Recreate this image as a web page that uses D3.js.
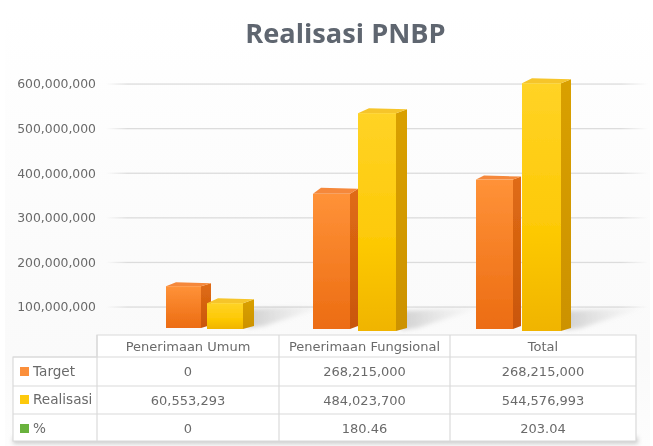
<!DOCTYPE html>
<html><head><meta charset="utf-8">
<script src="https://cdn.jsdelivr.net/npm/d3@7"></script>
<style>html,body{margin:0;padding:0;background:#fff}svg{display:block}</style>
</head><body><div id="c"></div>
<script>
const title = "Realisasi PNBP";
const categories = ["Penerimaan Umum","Penerimaan Fungsional","Total"];
const seriesNames = ["Target","Realisasi","%"];
const axisTicks = [100000000,200000000,300000000,400000000,500000000,600000000];
// bar heights (the drawn orange bars differ from the table)
const targetBars = [96000000,303000000,335000000];
const realisasiBars = [58000000,484000000,551000000];
// table text
const targetRow = ["0","268,215,000","268,215,000"];
const realisasiRow = ["60,553,293","484,023,700","544,576,993"];
const persenRow = ["0","180.46","203.04"];

const W=653,H=446;
const svg=d3.select("#c").append("svg").attr("width",W).attr("height",H);
const defs=svg.append("defs");
const FONT="'DejaVu Sans',sans-serif";
function grad(id,stops,horizontal){
  const g=defs.append("linearGradient").attr("id",id).attr("x1",0).attr("y1",0).attr("x2",horizontal?1:0).attr("y2",horizontal?0:1);
  stops.forEach(s=>g.append("stop").attr("offset",s[0]).attr("stop-color",s[1]).attr("stop-opacity",s[2]===undefined?1:s[2]));
}
grad("bg",[[0,"#ffffff"],[0.55,"#fbfbfb"],[0.8,"#fafafa"],[1,"#fdfdfd"]]);
grad("oF",[[0,"#ff9238"],[1,"#ec6c12"]]);
grad("oS",[[0,"#e06c14"],[1,"#c9560c"]]);
grad("yF",[[0,"#ffd326"],[0.6,"#fdc905"],[1,"#f0b400"]]);
grad("yS",[[0,"#d9a006"],[1,"#cc9206"]]);
grad("shade",[[0,"#8a8a8a",0.38],[1,"#bbbbbb",0]],true);
grad("fade",[[0,"#dcdcdc",0],[0.04,"#dcdcdc"],[0.95,"#dcdcdc"],[1,"#dcdcdc",0]],true);
const soft=defs.append("filter").attr("id","soft").attr("x","-5%").attr("y","-5%").attr("width","110%").attr("height","110%");
soft.append("feGaussianBlur").attr("stdDeviation",0.55);
const blur=defs.append("filter").attr("id","blur").attr("x","-20%").attr("y","-50%").attr("width","140%").attr("height","200%");
blur.append("feGaussianBlur").attr("stdDeviation",2.2);

const root=svg.append("g").attr("filter","url(#soft)");
root.append("rect").attr("x",5).attr("y",12).attr("width",W-8).attr("height",H-12).attr("fill","url(#bg)");

root.append("text").attr("x",345.5).attr("y",43).attr("text-anchor","middle")
  .attr("font-family","'Open Sans',sans-serif").attr("font-weight",700).attr("font-size",27.2).attr("fill","#5f6670").text(title);

// value axis
const y=d3.scaleLinear().domain([100000000,600000000]).range([307,84]);
const baseShift=y(0)-329; // front plane of the bars sits above the axis zero
const axis=d3.axisLeft(y).tickValues(axisTicks).tickFormat(d3.format(",")).tickSize(0).tickPadding(0);
const ag=root.append("g").attr("transform","translate(96,0)").call(axis);
ag.select(".domain").remove();
ag.selectAll("text").attr("font-family",FONT).attr("font-size",12.4).attr("fill","#6a6a6a");
root.append("g").selectAll("rect").data(axisTicks).join("rect")
  .attr("x",106).attr("width",542).attr("y",d=>y(d)-0.6).attr("height",1.3).attr("fill","url(#fade)");

// bars
const groupX=d3.scaleOrdinal(categories,[166,313,476]);
const barSpec=[
 {vals:targetBars,off:[0,0,0],w:[35,37,37],d:[10,8,8],back:[4,6,4],f:"url(#oF)",s:"url(#oS)",t:"#f5883a"},
 {vals:realisasiBars,off:[41,45,46],w:[36,38,39],d:[11,11,10],back:[5,5,5],f:"url(#yF)",s:"url(#yS)",t:"#f6c52a"}
];
const bars=root.append("g");
const base=(i,k)=>k===0?(i===0?328:329):(i===0?329:331);
// ground shadows
categories.forEach((c,i)=>{
  const s=barSpec[1], x1=groupX(c)+s.off[i]+s.w[i]+s.d[i]-4, yb=base(i,1);
  bars.append("path").attr("d",d3.line()([[x1-2,yb-1],[x1,yb-20],[x1+80,yb-24],[x1+14,yb-3]]))
    .attr("fill","url(#shade)").attr("filter","url(#blur)");
});
barSpec.forEach((s,k)=>{
  s.vals.forEach((v,i)=>{
    const x=groupX(categories[i])+s.off[i], w=s.w[i], d=s.d[i], bk=s.back[i];
    const top=y(v)-baseShift, bot=base(i,k);
    const g=bars.append("g");
    g.append("path").attr("d",d3.line()([[x+w,top],[x+w+d,top-bk+1],[x+w+d,bot-3],[x+w,bot]])).attr("fill",s.s);
    g.append("path").attr("d",d3.line()([[x,top],[x+d,top-bk],[x+w+d,top-bk+1],[x+w,top]])).attr("fill",s.t);
    g.append("rect").attr("x",x).attr("y",top).attr("width",w).attr("height",bot-top).attr("fill",s.f);
  });
});

// data table
const colX=[13,97,279,450,636];
const rowY=[335,357,386,414,441];
const line=(x1,y1,x2,y2)=>t.append("line").attr("x1",x1).attr("y1",y1).attr("x2",x2).attr("y2",y2).attr("stroke","#dadada").attr("stroke-width",1.2);
root.append("rect").attr("x",13).attr("y",437).attr("width",625).attr("height",7).attr("fill","#a8a8a8").attr("opacity",.55).attr("filter","url(#blur)");
const t=root.append("g");
t.append("path").attr("d",`M${colX[1]},${rowY[0]}H${colX[4]}V${rowY[4]}H${colX[0]}V${rowY[1]}H${colX[1]}Z`).attr("fill","#ffffff").attr("stroke","#dadada").attr("stroke-width",1.2);
rowY.slice(1,4).forEach(v=>line(colX[0],v,colX[4],v));
colX.slice(1,4).forEach(v=>line(v,rowY[0],v,rowY[4]));
const cell=(x,yy,s,anchor)=>t.append("text").attr("x",x).attr("y",yy).attr("text-anchor",anchor||"middle")
  .attr("font-family",FONT).attr("font-size",13).attr("fill","#6a6a6a").text(s);
const mids=[188,364.5,543];
categories.forEach((c,i)=>cell(mids[i],351,c));
const rows=[targetRow,realisasiRow,persenRow], rowText=[376,405,433], rowLab=[376,404,433];
const swatch=["#fb8f3a","#fdc90f","#69b23c"];
seriesNames.forEach((n,r)=>{
  t.append("rect").attr("x",20).attr("y",rowLab[r]-9).attr("width",9).attr("height",9).attr("fill",swatch[r]);
  cell(33,rowLab[r],n,"start").attr("font-size",13.6);
  rows[r].forEach((s,i)=>cell(mids[i],rowText[r],s));
});
</script></body></html>
